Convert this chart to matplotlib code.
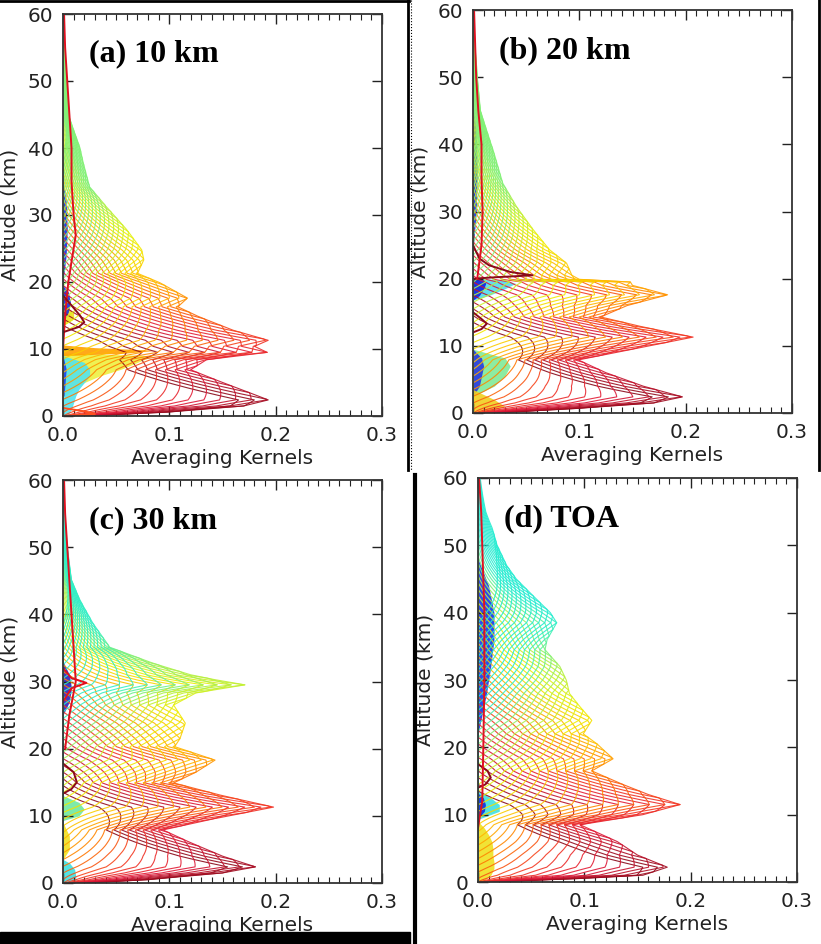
import numpy as np
import matplotlib.pyplot as plt
from matplotlib.colors import LinearSegmentedColormap
from matplotlib.ticker import MultipleLocator
from matplotlib.patches import Rectangle
from matplotlib.lines import Line2D

# The ~50 individual kernel curves are not readable one by one, so they are
# drawn as copies of the read envelope tapered around each layer altitude
# (see draw_panel). They are an approximation of the look, not read values.

# ---- outer envelope of the kernels in each panel (altitude km, kernel value) ----
env_a_z = [0, 0.6, 1.5, 2.4, 3.5, 5, 6.9, 8.4, 9.5, 10.4, 11.3, 12.8, 14.8, 16.3, 17.6,
           19.9, 21.3, 23.3, 24.8, 27.8, 31.2, 34.2, 37.8, 40, 42.7, 45, 50, 55, 60]
env_a_x = [0.02, 0.10, 0.17, 0.193, 0.175, 0.15, 0.12, 0.135, 0.192, 0.18, 0.193, 0.16, 0.128, 0.108, 0.117,
           0.091, 0.070, 0.076, 0.074, 0.060, 0.041, 0.025, 0.019, 0.016, 0.010, 0.005, 0.003, 0.002, 0.001]

env_b_z = [0, 0.7, 1.5, 2.4, 4, 6, 7.9, 9.5, 11.3, 12.8, 14.3, 16, 17.6, 19.0, 19.5,
           19.9, 20.5, 22.3, 24.3, 27.2, 30.7, 34.2, 39.1, 42, 45, 50, 55, 60]
env_b_x = [0.02, 0.10, 0.17, 0.197, 0.16, 0.125, 0.099, 0.15, 0.207, 0.16, 0.12, 0.145, 0.183, 0.15, 0.148,
           0.10, 0.093, 0.088, 0.072, 0.057, 0.041, 0.028, 0.019, 0.013, 0.007, 0.004, 0.002, 0.001]

env_c_z = [0, 0.5, 1.5, 2.4, 4, 6, 7.9, 9.5, 11.3, 13, 14.9, 16.5, 18.3, 20.3, 21.5, 23.8, 26.5,
           28.3, 29.5, 30.2, 31.0, 32.7, 35.1, 38.7, 42.1, 45.1, 50, 55, 60]
env_c_x = [0.02, 0.08, 0.15, 0.181, 0.15, 0.12, 0.094, 0.14, 0.198, 0.15, 0.104, 0.125, 0.143, 0.105, 0.11, 0.115, 0.104,
           0.125, 0.171, 0.145, 0.12, 0.085, 0.044, 0.028, 0.016, 0.008, 0.004, 0.002, 0.001]

env_d_z = [0, 0.5, 1, 2.2, 4, 6, 8.5, 10, 11.5, 13, 14.5, 16.5, 18.3, 20.5, 22, 24, 26, 28, 30,
           32, 34.5, 36, 38.5, 40, 42, 45, 47, 50, 55, 60]
env_d_x = [0.01, 0.093, 0.155, 0.178, 0.15, 0.131, 0.096, 0.155, 0.19, 0.16, 0.136, 0.107, 0.127, 0.112, 0.099, 0.107, 0.096, 0.086, 0.083,
           0.077, 0.063, 0.065, 0.074, 0.068, 0.055, 0.036, 0.027, 0.018, 0.009, 0.005]

# ---- small features hugging the y axis: (altitudes, values, colour) ----
blobs_a = [([2.8, 4, 5, 6, 7, 8, 9, 9.4], [0, 0.01, 0.02, 0.035, 0.055, 0.07, 0.085, 0], '#eef040'),
           ([9.0, 9.4, 9.8, 10.2, 10.6], [0, 0.06, 0.088, 0.03, 0], '#ffa000'),
           ([0, 1, 2, 3, 4, 5, 6, 7, 8, 9], [0.004, 0.008, 0.01, 0.012, 0.015, 0.02, 0.025, 0.025, 0.02, 0], '#50e4f0'),
           ([3, 5, 7, 9], [0.001, 0.002, 0.003, 0], '#2040e8'),
           ([13.5, 14.5, 15.5, 16.5], [0, 0.01, 0.01, 0], '#f0e020'),
           ([14, 15.5, 17, 18.5, 19.5], [0, 0.005, 0.007, 0.005, 0], '#1030e0'),
           ([20, 24, 28, 32, 35], [0, 0.003, 0.004, 0.003, 0], '#1030e0')]
blobs_b = [([16.8, 17.5, 18.5, 19.3, 19.8, 20.1], [0, 0.015, 0.03, 0.04, 0.03, 0], '#50dcf0'),
           ([16.8, 17.5, 18.5, 19.3, 19.8, 20.1], [0, 0.006, 0.01, 0.012, 0.01, 0], '#1020e0'),
           ([2.5, 4, 5.5, 7, 8.2, 9.5], [0, 0.02, 0.03, 0.035, 0.03, 0], '#80ea98'),
           ([2.5, 4, 5.5, 7, 8.2, 9.5], [0, 0.006, 0.008, 0.01, 0.008, 0], '#2838e0'),
           ([0, 1, 2, 3.5], [0.01, 0.03, 0.02, 0], '#f0d020'),
           ([24, 30, 36, 42, 46], [0, 0.003, 0.004, 0.003, 0], '#1030e0')]
blobs_c = [([9.3, 10, 11, 12, 13], [0, 0.015, 0.02, 0.015, 0], '#70e8a0'),
           ([0, 1, 2, 3, 3.5], [0.012, 0.012, 0.011, 0.006, 0], '#40e0e0'),
           ([3.5, 5, 7, 9], [0, 0.006, 0.006, 0], '#f0e020'),
           ([25, 27, 29, 31, 33], [0, 0.006, 0.008, 0.006, 0], '#3020c0')]
blobs_d = [([9.3, 10.5, 11.5, 12.5, 13.5], [0, 0.02, 0.02, 0.012, 0], '#40e0e0'),
           ([9.5, 10.5, 11.5, 12.5, 13.2], [0, 0.006, 0.007, 0.005, 0], '#1030e0'),
           ([0, 1, 2, 3, 4, 5, 6, 7, 8, 9], [0.004, 0.012, 0.015, 0.015, 0.014, 0.014, 0.013, 0.01, 0.006, 0], '#f0e020'),
           ([22, 28, 32, 36, 40, 44, 48], [0, 0.008, 0.012, 0.015, 0.015, 0.01, 0], '#1838e8')]

# thick near-axis curves: (altitudes, values, colour)
tails_a = [([10, 15, 20, 25, 27, 30, 35, 40, 45, 50, 55, 60], [0, 0.002, 0.005, 0.01, 0.012, 0.01, 0.008, 0.008, 0.006, 0.004, 0.002, 0.001], '#e01020'),
           ([18, 16.5, 15, 14, 13.3, 12.5], [0, 0.008, 0.016, 0.02, 0.015, 0], '#8b0a1a'),
           ([0, 0.3, 0.7, 1.2], [0, 0.03, 0.02, 0], '#ff5020')]
tails_b = [([25, 23, 22, 21, 20.5, 20.2, 20.0], [0, 0.006, 0.015, 0.035, 0.056, 0.02, 0], '#8b0a1a'),
           ([15, 14, 13.3, 12.5, 12], [0, 0.008, 0.013, 0.008, 0], '#8b0a1a'),
           ([20, 25, 30, 35, 40, 45, 50, 55, 60], [0.004, 0.008, 0.009, 0.008, 0.008, 0.005, 0.003, 0.002, 0.001], '#e01020')]
tails_c = [([27, 29, 29.8, 30.5, 32], [0, 0.008, 0.022, 0.008, 0], '#e01020'),
           ([17.8, 16.5, 15, 14, 13.3], [0, 0.01, 0.013, 0.008, 0], '#8b0a1a'),
           ([20, 25, 30, 35, 40, 45, 50, 55, 60], [0.002, 0.006, 0.012, 0.01, 0.008, 0.006, 0.004, 0.002, 0.001], '#e01020')]
tails_d = [([17.5, 16.5, 15.5, 14.5, 14], [0, 0.009, 0.012, 0.007, 0], '#8b0a1a'),
           ([8, 12, 20, 30, 40, 50, 55, 60], [0, 0.004, 0.005, 0.006, 0.006, 0.004, 0.003, 0.001], '#e01020')]

titles = ['(a) 10 km', '(b) 20 km', '(c) 30 km', '(d) TOA']
# lowest colour-scale position reached by the upper kernels in each panel
top_colour = [0.47, 0.47, 0.40, 0.38]
xticks = [0.0, 0.1, 0.2, 0.3]
yticks = [0, 10, 20, 30, 40, 50, 60]

rainbow = LinearSegmentedColormap.from_list('idl_rainbow', [
    (0.0, '#1a0090'), (0.12, '#0020ff'), (0.25, '#00a0ff'), (0.33, '#00e8f0'),
    (0.42, '#40f0b8'), (0.5, '#a8f050'), (0.6, '#f0f000'), (0.68, '#ffc000'),
    (0.75, '#ff7a00'), (0.81, '#f53a20'), (0.89, '#e01838'), (1.0, '#8a0818')])

z_fine = np.linspace(0, 60, 601)
layer_h = np.arange(0, 52.1, 1.0)


def draw_panel(ax, env_z, env_x, blobs, tails, title, tmin):
    env = np.interp(z_fine, env_z, env_x)
    # one curve per layer: the envelope tapered linearly within +-13 km of the layer
    for h in layer_h:
        w = np.clip(1.04 - np.abs(z_fine - h) / 13.0, 0, 1)
        ax.plot(env * w, z_fine, color=rainbow(max(tmin, 1 - h / 64.0)), lw=0.8, alpha=0.9)
    for bz, bx, c in blobs:
        ax.fill_betweenx(bz, 0, bx, color=c, lw=0, alpha=0.9)
    for tz, tx, c in tails:
        ax.plot(tx, tz, color=c, lw=1.4)
    ax.set_xlim(0, 0.3)
    ax.set_ylim(0, 60)
    ax.set_xticks(xticks)
    ax.set_yticks(yticks)
    ax.xaxis.set_minor_locator(MultipleLocator(0.01))
    ax.tick_params(which='both', direction='in', top=True, right=True,
                   labelsize=14.5, colors='#222222')
    ax.tick_params(which='major', length=7, width=1.0, pad=7)
    ax.tick_params(which='minor', length=4, width=0.8)
    for s in ax.spines.values():
        s.set_linewidth(1.3)
        s.set_color('#333333')
    ax.set_xlabel('Averaging Kernels', fontsize=14.5, labelpad=3, color='#222222')
    ax.set_ylabel('Altitude (km)', fontsize=14.5, labelpad=6, color='#222222')
    ax.text(0.024, 54, title, fontsize=23, fontweight='bold',
            family='Liberation Serif', va='center', ha='left')


fig = plt.figure(figsize=(8.21, 9.44), dpi=100)
W, H = 821.0, 944.0
boxes = [(63, 14, 382, 416), (473, 10, 792, 413), (63, 480, 382, 883), (478, 478, 797, 882)]
panels = [(env_a_z, env_a_x, blobs_a, tails_a), (env_b_z, env_b_x, blobs_b, tails_b),
          (env_c_z, env_c_x, blobs_c, tails_c), (env_d_z, env_d_x, blobs_d, tails_d)]
for (l, t, r, b), (ez, ex, bl, tl), title, tmin in zip(boxes, panels, titles, top_colour):
    ax = fig.add_axes([l / W, 1 - b / H, (r - l) / W, (b - t) / H])
    draw_panel(ax, ez, ex, bl, tl, title, tmin)

# black frame pieces of the original composite image
def px_line(x0, y0, x1, y1, lw, ls='-'):
    fig.add_artist(Line2D([x0 / W, x1 / W], [1 - y0 / H, 1 - y1 / H], color='black',
                          lw=lw, ls=ls, transform=fig.transFigure, zorder=10))

px_line(0, 1, 409, 1, 2.0)
px_line(408, 0, 408, 470, 2.0)
px_line(411, 0, 411, 470, 0.8, ':')
px_line(819, 0, 819, 470, 2.0)
px_line(415, 475, 415, 944, 3.0)
fig.add_artist(Rectangle((0, 0), 410 / W, 12 / H, color='black',
                         transform=fig.transFigure, zorder=10))

fig.savefig('out.png', dpi=100)
